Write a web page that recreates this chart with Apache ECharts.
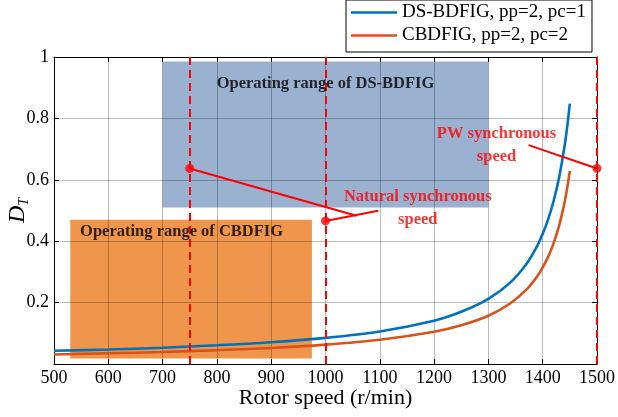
<!DOCTYPE html>
<html>
<head>
<meta charset="utf-8">
<style>
  html, body { margin: 0; padding: 0; background: #fff; }
  #chart { width: 618px; height: 417px; }
</style>
<script src="https://cdn.jsdelivr.net/npm/echarts@6/dist/echarts.min.js"></script>
</head>
<body>
<div id="chart"></div>
<script>
// Rotor speed samples (r/min)
const speeds = [500, 600, 700, 800, 900, 1000, 1100, 1200, 1250, 1300, 1340, 1370, 1390, 1400, 1410, 1420, 1430, 1440, 1445, 1450];
// D_T of the dual-stator machine
const dsBdfig = [0.043, 0.047, 0.053, 0.061, 0.071, 0.085, 0.106, 0.141, 0.170, 0.212, 0.265, 0.326, 0.385, 0.424, 0.471, 0.530, 0.606, 0.707, 0.771, 0.848];
// D_T of the cascaded machine
const cbdfig = [0.031, 0.035, 0.039, 0.045, 0.052, 0.063, 0.079, 0.105, 0.126, 0.157, 0.197, 0.242, 0.286, 0.315, 0.349, 0.393, 0.449, 0.524, 0.572, 0.629];

const seriesNames = ['DS-BDFIG, pp=2, pc=1', 'CBDFIG, pp=2, pc=2'];

// Operating ranges: [speed from, speed to] and [D_T from, D_T to]
const dsRangeSpeed = [700, 1300];
const dsRangeDT = [0.51, 0.985];
const cbRangeSpeed = [530, 975];
const cbRangeDT = [0.018, 0.47];

// Reference speeds marked with dashed lines
const refSpeeds = [750, 1000, 1500];
// Marked points on the reference lines
const markedPoints = [[750, 0.637], [1000, 0.466], [1500, 0.637]];
// Callout leader lines
const leaderA = [[750, 0.637], [1057, 0.483]];
const leaderB = [[1000, 0.466], [1097, 0.499]];
const leaderC = [[1500, 0.637], [1374, 0.713]];

const xTicks = { min: 500, max: 1500, step: 100 };
const yTicks = { min: 0, max: 1, step: 0.2 };

const serif = "'Liberation Serif', 'Times New Roman', serif";
const red = '#FF0000';

function pairs(xs, ys) { return xs.map((x, i) => [x, ys[i]]); }

const gridLine = { show: true, lineStyle: { color: 'rgba(0,0,0,0.26)', width: 1 } };

const chart = echarts.init(document.getElementById('chart'), null, { renderer: 'canvas' });

chart.setOption({
  animation: false,
  backgroundColor: '#fff',
  textStyle: { fontFamily: serif },
  grid: { left: 54, right: 21, top: 57, bottom: 53, containLabel: false, outerBoundsMode: 'none' },
  legend: {
    data: seriesNames,
    orient: 'vertical',
    left: 346,
    top: 0,
    padding: [3, 6, 7, 5],
    itemGap: 4,
    itemWidth: 46,
    itemHeight: 2.5,
    itemStyle: { borderWidth: 0 },
    icon: 'rect',
    backgroundColor: '#fff',
    borderColor: '#000',
    borderWidth: 1,
    textStyle: { fontFamily: serif, fontSize: 19, lineHeight: 19, color: '#000' }
  },
  xAxis: [
    {
      type: 'value', min: xTicks.min, max: xTicks.max, interval: xTicks.step, z: 2,
      name: 'Rotor speed (r/min)', nameLocation: 'middle', nameGap: 23, nameMoveOverlap: false,
      nameTextStyle: { fontFamily: serif, fontSize: 22, color: '#000' },
      axisLine: { show: true, onZero: false, lineStyle: { color: '#000', width: 1 } },
      axisTick: { show: true, inside: true, length: 5, lineStyle: { color: '#000' } },
      axisLabel: { fontFamily: serif, fontSize: 18, color: '#000', margin: 5, formatter: v => String(v) },
      splitLine: gridLine
    },
    {
      type: 'value', position: 'top', min: xTicks.min, max: xTicks.max, interval: xTicks.step, z: 2,
      axisLine: { show: true, onZero: false, lineStyle: { color: '#000', width: 1 } },
      axisTick: { show: true, inside: true, length: 5, lineStyle: { color: '#000' } },
      axisLabel: { show: false },
      splitLine: { show: false }
    }
  ],
  yAxis: [
    {
      type: 'value', min: yTicks.min, max: yTicks.max, interval: yTicks.step, z: 2,
      name: '{d|D}{s|T}', nameLocation: 'middle', nameGap: 23, nameRotate: 90, nameMoveOverlap: false,
      nameTextStyle: {
        color: '#000',
        rich: {
          d: { fontFamily: serif, fontStyle: 'italic', fontSize: 24, color: '#000', lineHeight: 26 },
          s: { fontFamily: serif, fontStyle: 'italic', fontSize: 14, color: '#000', lineHeight: 26, verticalAlign: 'bottom', padding: [9, 0, 0, 0] }
        }
      },
      axisLine: { show: true, onZero: false, lineStyle: { color: '#000', width: 1 } },
      axisTick: { show: true, inside: true, length: 5, lineStyle: { color: '#000' } },
      axisLabel: {
        fontFamily: serif, fontSize: 18, color: '#000', margin: 5,
        formatter: v => (v === 0 ? '' : String(+v.toFixed(1)))
      },
      splitLine: gridLine
    },
    {
      type: 'value', position: 'right', min: yTicks.min, max: yTicks.max, interval: yTicks.step, z: 2,
      axisLine: { show: true, onZero: false, lineStyle: { color: '#000', width: 1 } },
      axisTick: { show: true, inside: true, length: 5, lineStyle: { color: '#000' } },
      axisLabel: { show: false },
      splitLine: { show: false }
    }
  ],
  series: [
    // Shaded operating ranges, beneath the grid lines
    {
      name: 'ranges', type: 'line', data: [], z: 1, silent: true,
      markArea: {
        silent: true,
        label: { show: false },
        data: [
          [{ coord: [dsRangeSpeed[0], dsRangeDT[0]], itemStyle: { color: '#9BB1D0' } }, { coord: [dsRangeSpeed[1], dsRangeDT[1]] }],
          [{ coord: [cbRangeSpeed[0], cbRangeDT[0]], itemStyle: { color: '#F0964C' } }, { coord: [cbRangeSpeed[1], cbRangeDT[1]] }]
        ]
      }
    },
    {
      name: seriesNames[0], type: 'line', data: pairs(speeds, dsBdfig), z: 3,
      showSymbol: false, smooth: 0.3, color: '#0072BD',
      lineStyle: { color: '#0072BD', width: 2.6 }
    },
    {
      name: seriesNames[1], type: 'line', data: pairs(speeds, cbdfig), z: 3,
      showSymbol: false, smooth: 0.3, color: '#D95319',
      lineStyle: { color: '#D95319', width: 2.6 }
    },
    // Dashed reference speeds
    {
      name: 'refs', type: 'line', data: [], z: 4, silent: true,
      markLine: {
        silent: true, symbol: 'none', label: { show: false },
        lineStyle: { color: red, width: 2, type: [8, 5] },
        data: refSpeeds.map(s => ({ xAxis: s }))
      }
    },
    { name: 'leaderA', type: 'line', data: leaderA, z: 4, showSymbol: false, silent: true, lineStyle: { color: red, width: 2 } },
    { name: 'leaderB', type: 'line', data: leaderB, z: 4, showSymbol: false, silent: true, lineStyle: { color: red, width: 2 } },
    { name: 'leaderC', type: 'line', data: leaderC, z: 4, showSymbol: false, silent: true, lineStyle: { color: red, width: 2 } },
    {
      name: 'points', type: 'scatter', data: markedPoints, z: 5, silent: true,
      symbol: 'circle', symbolSize: 9, itemStyle: { color: red }
    },
    // Captions
    {
      name: 'captions', type: 'scatter', z: 6, silent: true, symbolSize: 0,
      label: { show: true, position: 'inside', fontFamily: serif, fontWeight: 'bold', fontSize: 16.5, lineHeight: 22.6, align: 'center' },
      data: [
        { value: [1000, 0.914], label: { formatter: 'Operating range of DS-BDFIG', color: '#000' } },
        { value: [735, 0.43], label: { formatter: 'Operating range of CBDFIG', color: '#000' } },
        { value: [1170, 0.508], label: { formatter: 'Natural synchronous\nspeed', color: red } },
        { value: [1315, 0.713], label: { formatter: 'PW synchronous\nspeed', color: red } }
      ]
    }
  ]
});
</script>
</body>
</html>
